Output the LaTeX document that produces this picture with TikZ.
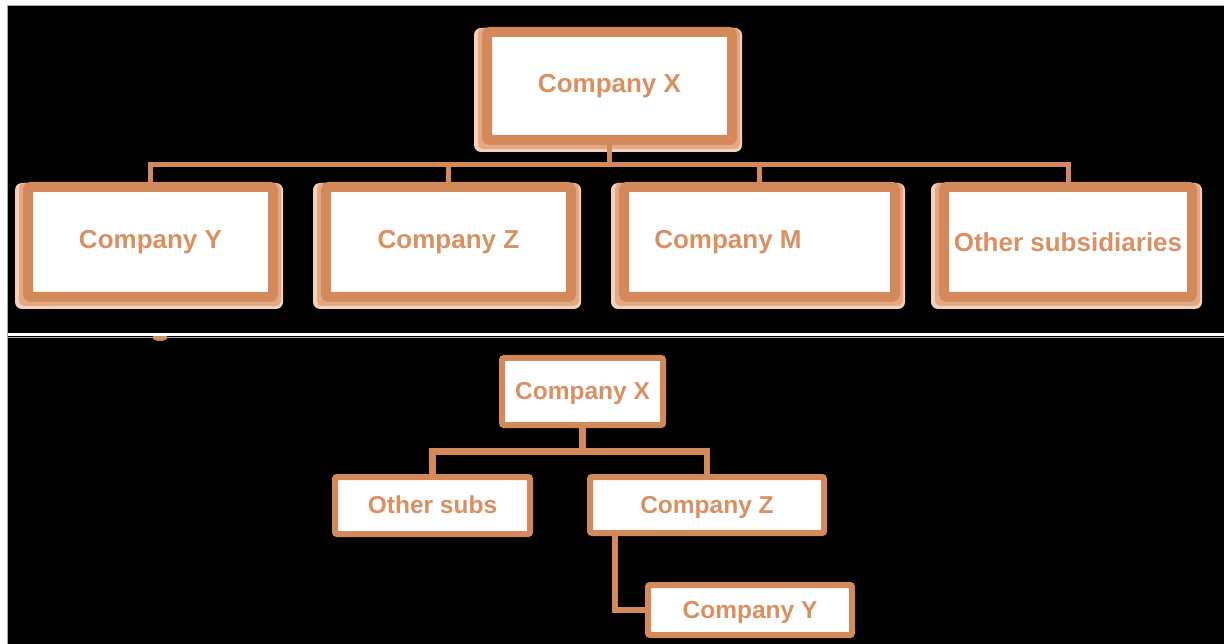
\documentclass[tikz,border=0pt]{standalone}
\usepackage{fontspec}
\setmainfont{Liberation Sans}
\usetikzlibrary{calc}
\definecolor{frameC}{HTML}{D4895A}
\definecolor{textC}{HTML}{D99062}
\definecolor{haloOut}{HTML}{F2D2BC}
\definecolor{haloIn}{HTML}{E4A982}
\pgfdeclarelayer{back}
\pgfdeclarelayer{halo}
\pgfsetlayers{back,halo,main}
\begin{document}
\begin{tikzpicture}[x=1pt,y=-1pt,
  bigbox/.style={draw=frameC, line width=10pt, fill=white, rounded corners=3pt,
    inner sep=0pt, text=textC, font=\fontsize{26}{30}\selectfont\bfseries},
  smallbox/.style={draw=frameC, line width=6pt, fill=white, rounded corners=2pt,
    inner sep=0pt, text=textC, text depth=1pt, font=\fontsize{24.5}{28}\selectfont\bfseries},
  bigconn/.style={draw=frameC, line width=5pt},
  smallconn/.style={draw=frameC, line width=6.5pt},
]
\useasboundingbox (0,0) rectangle (1224,644);

% page background and panel separators
\begin{pgfonlayer}{back}
  \fill[black] (0,0) rectangle (1224,644);
  \fill[white] (0,0) rectangle (7,644);
  \fill[white] (0,0) rectangle (1224,5);
  \fill[frameC] (160,337.5) ellipse [x radius=7.5, y radius=3.5];
  \fill[white] (7,333.5) rectangle (1224,336.5);
  \draw[gray!70, line width=1pt] (7.5,5) -- (7.5,644);
  \draw[gray!70, line width=1pt] (7,5.5) -- (1224,5.5);
  \draw[gray!70, line width=0.8pt] (7,337) -- (1224,337);
\end{pgfonlayer}

% upper chart
\node[bigbox, minimum width=245pt, minimum height=108pt] (X) at (609.5,86) {Company X};
\node[bigbox, minimum width=245pt, minimum height=110pt] (Y) at (150.5,242) {Company Y};
\node[bigbox, minimum width=245pt, minimum height=110pt] (Z) at (448.5,242) {Company Z};
\node[bigbox, minimum width=271pt, minimum height=110pt] (M) at (759.5,242) {Company M\hspace*{63pt}};
\node[bigbox, minimum width=248pt, minimum height=110pt] (O) at (1068,242) {Other subsidiaries};

% soft glow around the upper boxes (anchors sit on the outer edge of the frame)
\begin{pgfonlayer}{halo}
  \foreach \b in {X,Y,Z,M,O}{
    \fill[haloOut, rounded corners=7pt] ($(\b.north west)+(-8,1)$) rectangle ($(\b.south east)+(5,7)$);
    \fill[haloIn, rounded corners=5pt] ($(\b.north west)+(-4,1)$) rectangle ($(\b.south east)+(3,4)$);
  }
\end{pgfonlayer}

\coordinate (bus) at (0,164.5);
\foreach \c in {Y,Z,M,O}{
  \draw[bigconn] (X.south) -- (X.south |- bus) -| (\c.north);
}

% lower chart
\node[smallbox, minimum width=161pt, minimum height=67pt] (X2) at (582.5,391.5) {Company X};
\node[smallbox, minimum width=195pt, minimum height=57pt] (O2) at (432.5,505.5) {Other subs};
\node[smallbox, minimum width=234pt, minimum height=56pt] (Z2) at (707,505) {Company Z};
\node[smallbox, minimum width=204pt, minimum height=50pt] (Y2) at (750,610) {Company Y};

\coordinate (bus2) at (0,451.5);
\coordinate (bend) at (615,610);
\begin{pgfonlayer}{halo}
  \draw[smallconn] (X2.south) -- (X2.south |- bus2) -| (O2.north);
  \draw[smallconn] (X2.south) -- (X2.south |- bus2) -| (Z2.north);
  \draw[smallconn] (Z2.south -| bend) -- (bend) -- (Y2.west);
\end{pgfonlayer}
\end{tikzpicture}
\end{document}
